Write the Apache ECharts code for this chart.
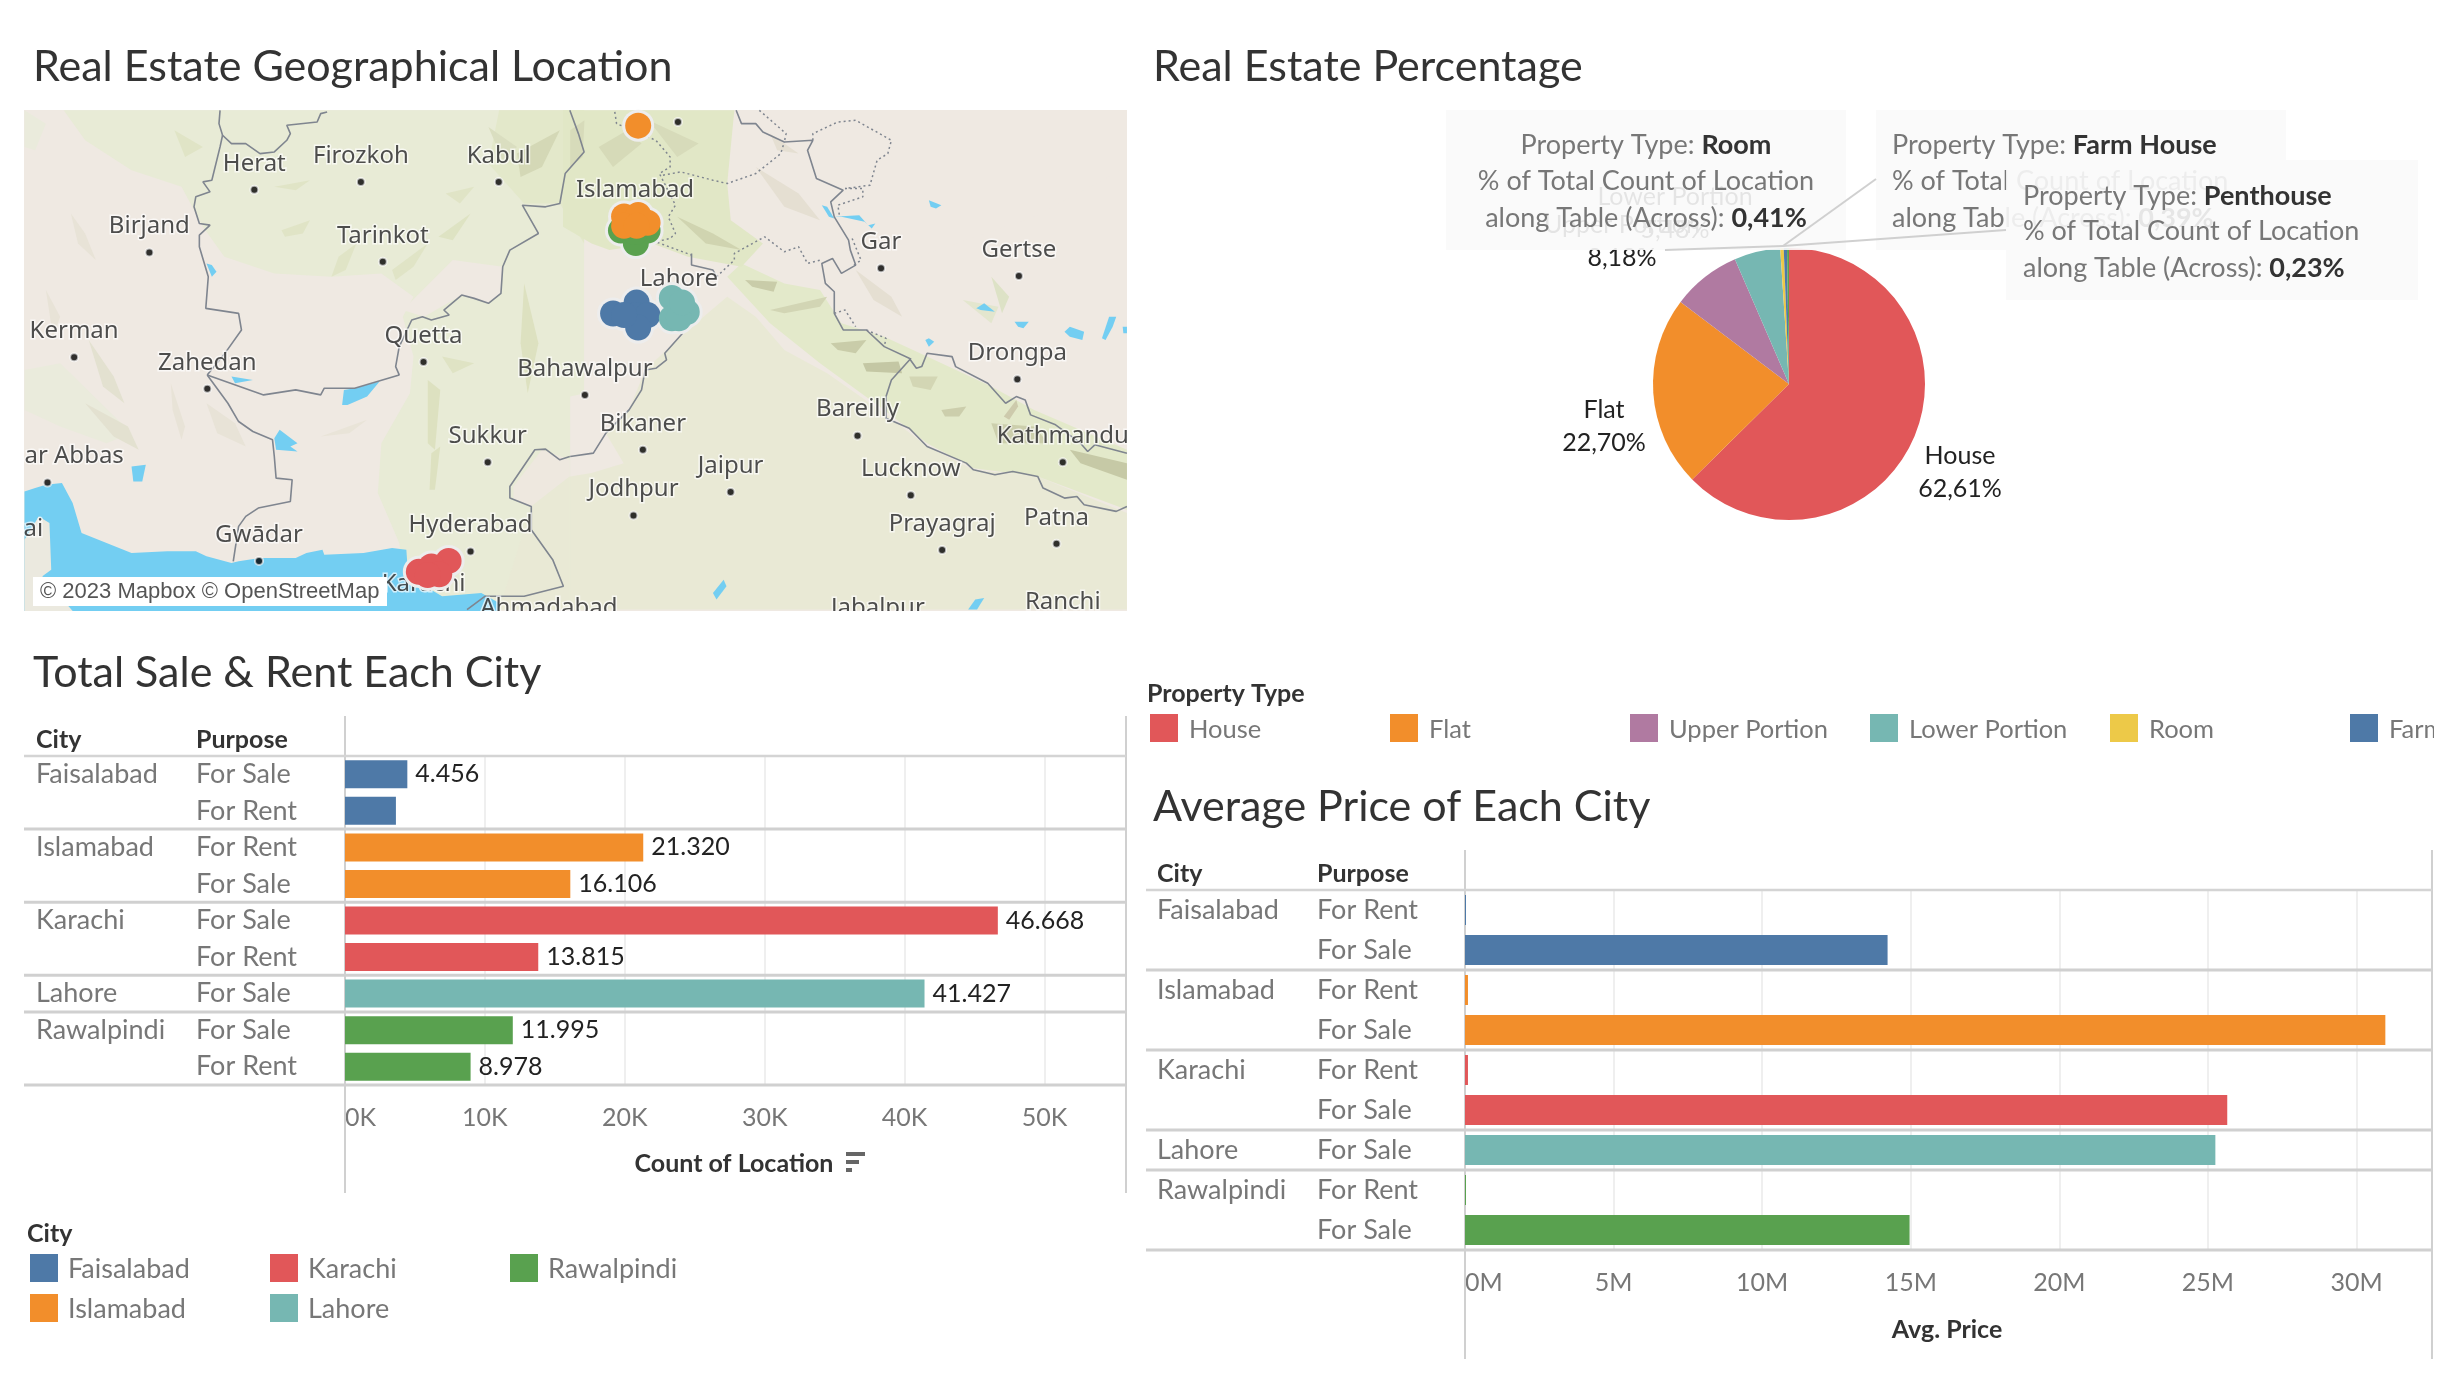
<!DOCTYPE html>
<html><head><meta charset="utf-8">
<style>html,body{margin:0;padding:0;background:#fff}#c{width:2458px;height:1386px}</style>
<script src="https://cdn.jsdelivr.net/npm/echarts@6/dist/echarts.min.js"></script>
</head><body><div id="c"></div>
<script>
const FONT='Lato', MAPFONT='Noto Sans';
const cityColors={Faisalabad:'#4e79a7',Islamabad:'#f28e2b',Karachi:'#e15759',Lahore:'#76b7b2',Rawalpindi:'#59a14f'};
const propertyTypes=['House','Flat','Upper Portion','Lower Portion','Room','Farm House','Penthouse'];
const propertyShares=[62.61,22.70,8.18,5.48,0.41,0.39,0.23];
const propertyColors=['#e15759','#f28e2b','#b07aa1','#76b7b2','#edc948','#4e79a7','#59a14f'];

const countCities=['Faisalabad','Faisalabad','Islamabad','Islamabad','Karachi','Karachi','Lahore','Rawalpindi','Rawalpindi'];
const countPurposes=['For Sale','For Rent','For Rent','For Sale','For Sale','For Rent','For Sale','For Sale','For Rent'];
const countValues=[4456,3640,21320,16106,46668,13815,41427,11995,8978];
const countLabelled=[true,false,true,true,true,true,true,true,true];

const priceCities=['Faisalabad','Faisalabad','Islamabad','Islamabad','Karachi','Karachi','Lahore','Rawalpindi','Rawalpindi'];
const pricePurposes=['For Rent','For Sale','For Rent','For Sale','For Rent','For Sale','For Sale','For Rent','For Sale'];
const priceValues=[0.03,14.22,0.1,30.97,0.1,25.65,25.25,0.03,14.96];

// map geometry in map units (display grid) and in two tile grids
const T1=p=>[15.3+p[0]*.2278,70.2+p[1]*.2126];
const T2=p=>[363.6+p[0]*.2278,70.2+p[1]*.2126];
const mapPlaces=[['Herat',162,121],['Firozkoh',230,116],['Kabul',318,116],['Birjand',95,161],['Tarinkot',244,167],['Gar',562,171],['Gertse',650,176],['Kerman',47,228],['Zahedan',132,248],['Quetta',270,231],['Bahawalpur',373,252],['Drongpa',649,242],['Bikaner',410,287],['Sukkur',311,295],['Bareilly',547,278],['Kathmandu',678,295],['Jaipur',466,314],['Lucknow',581,316],['Jodhpur',404,329],['Prayagraj',601,351],['Patna',674,347],['Hyderabad',300,352],['Gwādar',165,358],['Ranchi',678,401],['Jabalpur',560,405],['Ahmadabad',350,405]];
const mapDotsOnly=[[432.4,77.6],[30,308]];
const mapLabelsOnly=[['Islamabad',405,121],['Lahore',433,178],['ar Abbas',47,291],['ai',21,338],['Karachi',270,373]];
const mapMarks={
 Rawalpindi:[[396,147],[405.5,155],[413,147],[405,148]],
 Islamabad:[[407,80],[398,138],[407,137],[413,142],[398,144],[406,144]],
 Faisalabad:[[391,200],[406,193],[406,201],[413,201],[407,209],[398,201]],
 Lahore:[[428.5,190],[438,199],[428.5,203],[433,203],[435,193]],
 Karachi:[[286,358],[267,365],[275,361.5],[280,366.5],[272.7,367]]
};
const mapLandT1=[
 ['#e8ebd6',[[110,0],[170,90],[300,180],[440,230],[500,350],[560,440],[700,490],[860,500],[1000,490],[1090,560],[1060,620],[1090,740],[1080,850],[1000,1000],[990,1150],[1050,1300],[1075,1500],[1568,1500],[1568,0]]],
 ['#efe9e2',[[1200,450],[1340,470],[1335,550],[1300,580],[1225,555],[1120,620],[1060,600]]],
 ['#eaebdc',[[0,780],[100,760],[300,970],[230,1000],[100,950],[0,900]]],
 ['#eaebdc',[[0,0],[60,40],[30,120],[0,110]]],
 ['#eee8df',[[1370,1130],[1450,1020],[1528,1050],[1528,1100],[1420,1190],[1370,1170]]],
 ['#e9e9d5',[[1420,1190],[1528,1100],[1528,1500],[1330,1500]]],
 ['#e3e8ca',[[1330,0],[1568,0],[1568,400],[1500,280],[1400,280],[1300,160]]]
];
const mapLandT2=[
 ['#efe9e2',[[460,0],[1560,0],[1560,170],[1300,320],[1000,430],[880,500],[850,600],[880,680],[760,640],[700,540],[660,500],[540,400],[450,330],[440,220],[460,100]]],
 ['#e9e9d5',[[0,1100],[70,1000],[165,900],[210,780],[270,720],[330,660],[440,560],[520,620],[600,720],[720,790],[880,910],[1000,1010],[1130,1080],[1310,1100],[1560,1210],[1560,1500],[0,1500]]],
 ['#efe9e2',[[0,860],[130,830],[150,880],[100,970],[150,1060],[60,1090],[0,1100]]],
 ['#e3e9ca',[[440,500],[560,640],[700,760],[880,900],[1000,1000],[1130,1075],[1310,1100],[1560,1200],[1560,1020],[1300,900],[1180,830],[1000,740],[880,680],[760,640],[700,540],[600,520],[480,460]]],
 ['#e1e7c6',[[-20,0],[460,0],[440,220],[450,330],[540,400],[480,470],[330,440],[230,400],[110,420],[60,400],[-20,350]]]
];
const mapShardsT1=[
 ['#e0e4c6',[[720,360],[800,330],[780,370],[730,380]]],['#e0e4c6',[[1030,480],[1130,400],[1090,470],[1040,510]]],['#dee3c3',[[1160,380],[1250,310],[1200,390]]],
 ['#d4d8b6',[[1380,130],[1500,60],[1450,170],[1390,200]]],['#dadec0',[[1300,50],[1380,110],[1340,150]]],['#e0e4c6',[[880,440],[930,400],[900,480],[860,500]]],
 ['#e0e4c6',[[420,60],[500,110],[450,140]]],['#e0e4c6',[[700,230],[800,210],[760,240]]],['#e0e4c6',[[1180,250],[1260,230],[1220,280]]],
 ['#e8e3d7',[[130,310],[170,370],[200,450],[150,400]]],['#e8e3d7',[[60,540],[100,620],[80,680]]],['#e3e1d0',[[180,690],[250,800],[280,880],[220,830]]],
 ['#e8e3d7',[[410,820],[450,950],[440,990],[415,900]]],['#e3e1d0',[[170,880],[290,950],[320,1020],[250,980]]],['#e8e3d7',[[510,880],[590,940],[620,1010],[540,970]]],
 ['#e9e4d8',[[830,980],[960,930],[910,970]]],['#dde1c0',[[1130,810],[1165,840],[1150,1020],[1130,1000]]],['#dde1c0',[[1400,520],[1440,700],[1410,850],[1390,700]]],
 ['#dde1c0',[[1140,1030],[1165,1010],[1150,1140],[1135,1140]]],['#dfe3c4',[[1170,740],[1260,760],[1200,790]]]
];
const mapShardsT2=[
 ['#c9cca9',[[490,510],[580,515],[570,545],[510,530]]],['#d2d5b4',[[560,600],[720,560],[700,590],[600,610]]],['#c9cca9',[[730,700],[830,690],[800,730],[750,720]]],
 ['#c4c7a4',[[820,760],[920,755],[930,790],[830,785]]],['#d3d6b4',[[950,800],[1030,800],[1010,840],[960,830]]],['#ccceac',[[1040,900],[1110,890],[1090,920],[1050,920]]],
 ['#cccfac',[[1180,940],[1300,950],[1340,1000],[1200,1000]]],['#c6c9a6',[[1400,1020],[1560,1060],[1560,1110],[1430,1060]]],['#cdcaac',[[1215,920],[1250,870],[1255,890],[1230,930]]],
 ['#d0d4b0',[[300,320],[400,370],[480,420],[380,400]]],['#d6dab8',[[80,110],[160,60],[200,100],[120,170]]],['#d7dbba',[[220,30],[360,100],[300,140]]],['#d7dbba',[[0,60],[40,30],[35,140],[0,170]]],
 ['#e5dfd2',[[520,170],[640,250],[700,330],[600,290]]],['#e5dfd2',[[800,480],[900,560],[930,620],[850,570]]],['#e5dfd2',[[560,70],[640,130],[580,120]]],
 ['#dde2c6',[[1180,500],[1230,560],[1210,610]]],['#e3e6ce',[[1100,570],[1200,590],[1180,640]]]
];
const mapSeaT1=[[0,1145],[30,1135],[60,1125],[105,1120],[135,1180],[160,1270],[230,1300],[300,1330],[400,1325],[480,1325],[510,1340],[580,1360],[600,1355],[660,1345],[760,1345],[790,1330],[835,1320],[840,1335],[950,1330],[1030,1315],[1070,1320],[1075,1400],[1170,1460],[1280,1450],[1330,1480],[1330,1510],[0,1510]];
const mapCoastT1=[[0,1290],[40,1220],[70,1240],[75,1380],[50,1400],[140,1510],[0,1510]];
const mapLakesT1=[[[510,460],[525,465],[538,485],[525,500]],[[580,800],[640,810],[590,820]],[[890,885],[895,840],[925,835],[995,815],[960,860],[905,885]],[[700,985],[715,960],[765,1000],[745,1010],[765,1025],[705,1020]],[[300,1070],[340,1065],[330,1115],[305,1115]]];
const mapLakesT2=[[[705,285],[720,290],[740,325],[725,320]],[[735,320],[810,315],[835,345],[855,340],[845,355],[825,335],[760,320]],[[1005,270],[1040,285],[1025,295],[1010,290]],[[1138,595],[1160,580],[1190,605],[1150,600]],[[1245,635],[1285,635],[1270,655],[1255,650]],[[1385,665],[1400,650],[1440,665],[1435,690],[1400,680]],[[1490,685],[1510,620],[1530,620],[1520,650],[1500,690]],[[995,690],[1005,685],[1020,695],[1005,710]],[[400,1450],[430,1410],[438,1430],[410,1470]],[[1115,1500],[1135,1470],[1160,1465],[1140,1500]],[[1548,650],[1560,650],[1560,670],[1550,670]]];
const mapBordersT1=[
 [[848,5],[830,10],[820,35],[735,45],[745,70],[735,90],[700,125],[660,130],[620,100],[580,100],[555,75],[545,40],[548,0]],
 [[555,75],[548,110],[525,210],[500,215],[520,245],[480,260],[475,290],[490,340],[520,345],[490,375],[490,410],[515,500],[508,595],[600,610],[608,660],[565,725],[512,795]],
 [[512,795],[570,880],[600,935],[640,965],[695,990],[700,1040],[705,1105],[750,1110],[745,1175],[655,1195],[620,1220],[600,1250],[585,1355]],
 [[512,795],[670,855],[760,840],[830,855],[840,835],[925,835],[1050,795],[1040,770],[1050,710],[1085,630],[1115,620],[1140,630],[1190,615],[1175,600],[1225,555],[1260,565],[1300,580],[1335,550],[1340,470],[1360,420],[1440,370],[1395,285],[1460,290],[1500,280],[1515,190],[1568,125],[1552,70],[1528,0]],
 [[1528,1040],[1500,1050],[1460,1018],[1430,1020],[1360,1130],[1360,1165],[1420,1190],[1420,1260],[1480,1350],[1510,1430],[1400,1460],[1290,1460],[1240,1500]]
];
const mapBordersT2=[
 [[340,430],[340,465],[400,480],[410,500]],
 [[315,670],[265,730],[270,750],[240,775],[210,780],[200,840],[165,900],[100,970],[65,1030],[0,1040]],
 [[465,0],[480,40],[520,40],[540,65],[600,95],[680,90],[665,120],[690,205],[765,240],[730,275],[740,320],[780,390],[785,420],[800,465],[760,490],[735,445],[705,460],[715,520],[740,545],[740,610],[765,660],[830,660],[880,710],[950,745],[970,775],[985,770],[1000,730],[1070,740],[1080,770],[1170,820],[1220,880],[1250,860],[1275,870],[1290,915],[1360,945],[1430,1000],[1450,1025],[1470,1005],[1560,1030]],
 [[955,745],[900,810],[885,860],[885,925],[950,955],[1000,1010],[1110,1060],[1130,1080],[1190,1095],[1240,1085],[1310,1100],[1325,1135],[1385,1165],[1420,1160],[1440,1185],[1530,1205],[1560,1190]]
];
const mapDottedT2=[
 [[125,5],[130,40],[240,90],[280,140],[280,170],[250,190],[295,285],[275,320],[295,370],[280,385],[240,395],[340,435]],
 [[260,195],[310,185],[400,210],[440,220],[520,190],[590,130],[600,95]],
 [[530,0],[605,70],[600,95]],
 [[680,90],[680,70],[750,35],[800,30],[900,90],[890,130],[860,150],[840,225],[770,235]],
 [[770,235],[820,235],[820,260],[750,285],[755,320]],
 [[410,500],[460,450],[460,430],[545,380],[600,425],[640,410],[665,460],[700,450]],
 [[790,385],[815,450],[795,465]],[[740,610],[770,600],[800,650]],[[830,660],[885,685],[880,710]]
];
const mapPolys=[
 ...mapLandT1.map(([c,p])=>({c,p:p.map(T1)})),
 ...mapLandT2.map(([c,p])=>({c,p:p.map(T2)})),
 ...mapShardsT1.map(([c,p])=>({c,p:p.map(T1)})),
 ...mapShardsT2.map(([c,p])=>({c,p:p.map(T2)})),
 {c:'#73cef2',p:mapSeaT1.map(T1)},{c:'#ebe9df',p:mapCoastT1.map(T1)},
 ...mapLakesT1.map(p=>({c:'#73cef2',p:p.map(T1)})),
 ...mapLakesT2.map(p=>({c:'#73cef2',p:p.map(T2)}))
];
const mapLines=[...mapBordersT1.map(b=>b.map(T1)),...mapBordersT2.map(b=>b.map(T2))];
const mapDashes=mapDottedT2.map(b=>b.map(T2));

const pieLabelSpots={House:[1960,472],Flat:[1604,426],'Upper Portion':[1622,241],'Lower Portion':[1675,213]};
const tipBoxes=[
 {x:1446,y:110,w:400,h:140,align:'center',tx:1646,ty:[145,181,218],type:'Room',val:'0,41%'},
 {x:1876,y:110,w:410,h:140,align:'left',tx:1892,ty:[145,181,218],type:'Farm House',val:'0,39%'},
 {x:2006,y:160,w:412,h:140,align:'left',tx:2023,ty:[196,231,268],type:'Penthouse',val:'0,23%'}
];

const SMALL=25, NAME=27, TITLE=43;
const txt=(x,y,text,o={})=>({type:'text',x,y,z:o.z||20,style:{text,fontFamily:FONT,fontSize:o.size||SMALL,fontWeight:o.weight||400,fill:o.fill||'#777',textAlign:o.align||'left',textVerticalAlign:'middle'}});
const rect=(x,y,w,h,fill,z)=>({type:'rect',z:z||20,shape:{x,y,width:w,height:h},style:{fill}});
const seg=(x1,y1,x2,y2,stroke,w,z)=>({type:'line',z:z||1,shape:{x1,y1,x2,y2},style:{stroke,lineWidth:w}});

const LEFT={gl:345,gt:756,gw:781,gh:329,top:716,bot:1193,tl:24,cityX:36,purpX:196,headY:740,cities:countCities};
const RIGHT={gl:1465,gt:890,gw:967,gh:360,top:850,bot:1359,tl:1146,cityX:1157,purpX:1317,headY:874,cities:priceCities};
function tableDecor(t){
 const g=[],rh=t.gh/t.cities.length,R=t.gl+t.gw;
 g.push(seg(t.gl,t.top,t.gl,t.bot,'#d0d0d0',2),seg(R,t.top,R,t.bot,'#d0d0d0',2));
 g.push(seg(t.tl,t.gt,R,t.gt,'#d4d4d4',2.5));
 t.cities.forEach((c,i)=>{ if(i===t.cities.length-1||t.cities[i+1]!==c){const y=t.gt+rh*(i+1);g.push(seg(t.tl,y,R,y,'#d0d0d0',3));}});
 g.push(txt(t.cityX,t.headY,'City',{fill:'#333',weight:700}),txt(t.purpX,t.headY,'Purpose',{fill:'#333',weight:700}));
 return g;
}
const graphics=[
 txt(33,67,'Real Estate Geographical Location',{size:TITLE,fill:'#333'}),
 txt(1153,67,'Real Estate Percentage',{size:TITLE,fill:'#333'}),
 txt(33,673,'Total Sale & Rent Each City',{size:TITLE,fill:'#333'}),
 txt(1153,807,'Average Price of Each City',{size:TITLE,fill:'#333'}),
 rect(0,611,1140,36,'#fff',15),rect(0,100,24,530,'#fff',15),rect(1127,100,13,530,'#fff',15),
 rect(33,577,354,29,'#fff',16),
 {type:'text',z:17,x:40,y:592,style:{text:'© 2023 Mapbox © OpenStreetMap',fontFamily:'Liberation Sans',fontSize:22,fill:'#555',textVerticalAlign:'middle'}},
 ...tableDecor(LEFT),...tableDecor(RIGHT),
 txt(734,1164,'Count of Location',{fill:'#333',weight:700,align:'center'}),
 rect(846,1152,19,4,'#666'),rect(846,1160,13,4,'#666'),rect(846,1168,6,4,'#666'),
 txt(1947,1330,'Avg. Price',{fill:'#333',weight:700,align:'center'}),
 txt(27,1234,'City',{fill:'#333',weight:700}),
 txt(1147,694,'Property Type',{fill:'#333',weight:700})
];
[['Faisalabad',30,1254],['Islamabad',30,1294],['Karachi',270,1254],['Lahore',270,1294],['Rawalpindi',510,1254]].forEach(([n,x,y])=>{
 graphics.push(rect(x,y,28,28,cityColors[n]),txt(x+38,y+15,n,{size:NAME}));
});
propertyTypes.slice(0,6).forEach((n,i)=>{
 const x=1150+240*i;
 graphics.push(rect(x,714,28,28,propertyColors[i]),txt(x+39,730,n,{size:25.5}));
});
graphics.push(rect(2434,700,24,50,'#fff',25));
const leaderPt=[1783,246];
graphics.push(seg(1665,250,leaderPt[0],leaderPt[1],'#d0d0d0',2,40),seg(1876,179,leaderPt[0],leaderPt[1],'#d0d0d0',2,40),seg(2006,230,leaderPt[0],leaderPt[1],'#d0d0d0',2,40));
tipBoxes.forEach((b,i)=>{
 const z=30+i*3;
 graphics.push({type:'rect',z,shape:{x:b.x,y:b.y,width:b.w,height:b.h},style:{fill:'rgba(249,249,249,0.9)'}});
 const mk=(y,text)=>({type:'text',z:z+1,x:b.tx,y,style:{text,fontFamily:FONT,fontSize:NAME,fill:'#777',textAlign:b.align,textVerticalAlign:'middle',rich:{b:{fontFamily:FONT,fontSize:NAME,fontWeight:700,fill:'#333'}}}});
 graphics.push(mk(b.ty[0],'Property Type: {b|'+b.type+'}'),mk(b.ty[1],'% of Total Count of Location'),mk(b.ty[2],'along Table (Across): {b|'+b.val+'}'));
});

const axisFont={fontFamily:FONT,fontSize:SMALL,color:'#777'};
const nameFont={fontFamily:FONT,fontSize:NAME,color:'#777'};
const hiddenLine={axisLine:{show:false},axisTick:{show:false}};
const opt={
 animation:false,backgroundColor:'#fff',
 grid:[
  {left:24,top:110,width:1103,height:501,show:false,outerBoundsMode:'none'},
  {left:LEFT.gl,top:LEFT.gt,width:LEFT.gw,height:LEFT.gh,outerBoundsMode:'none'},
  {left:RIGHT.gl,top:RIGHT.gt,width:RIGHT.gw,height:RIGHT.gh,outerBoundsMode:'none'}
 ],
 xAxis:[
  {gridIndex:0,type:'value',min:15,max:719,show:false},
  {gridIndex:1,type:'value',min:0,max:55830,interval:10000,...hiddenLine,splitLine:{lineStyle:{color:'#efefef',width:2}},
   axisLabel:{...axisFont,margin:20,alignMinLabel:'left',showMaxLabel:false,formatter:v=>(v/1000)+'K'}},
  {gridIndex:2,type:'value',min:0,max:32.54,interval:5,...hiddenLine,splitLine:{lineStyle:{color:'#efefef',width:2}},
   axisLabel:{...axisFont,margin:20,alignMinLabel:'left',showMaxLabel:false,formatter:v=>v+'M'}}
 ],
 yAxis:[
  {gridIndex:0,type:'value',min:70,max:390,inverse:true,show:false},
  {gridIndex:1,type:'category',position:'left',inverse:true,data:countPurposes,...hiddenLine,
   axisLabel:{...nameFont,align:'left',interval:0,margin:LEFT.gl-LEFT.purpX,padding:[3,0,0,0]}},
  {gridIndex:1,type:'category',position:'left',inverse:true,data:countCities.map((c,i)=>i&&countCities[i-1]===c?' ':c),...hiddenLine,
   axisLabel:{...nameFont,align:'left',interval:0,margin:LEFT.gl-LEFT.cityX,padding:[0,0,6,0]}},
  {gridIndex:2,type:'category',position:'left',inverse:true,data:pricePurposes,...hiddenLine,
   axisLabel:{...nameFont,align:'left',interval:0,margin:RIGHT.gl-RIGHT.purpX,padding:[3,0,0,0]}},
  {gridIndex:2,type:'category',position:'left',inverse:true,data:priceCities.map((c,i)=>i&&priceCities[i-1]===c?' ':c),...hiddenLine,
   axisLabel:{...nameFont,align:'left',interval:0,margin:RIGHT.gl-RIGHT.cityX,padding:[0,0,6,0]}}
 ],
 graphic:{elements:graphics},
 series:[
  {type:'custom',coordinateSystem:'cartesian2d',xAxisIndex:0,yAxisIndex:0,z:1,silent:true,clip:false,
   data:[[15,70]],renderItem:(p,api)=>{
    const a=api.coord([15,70]),b=api.coord([719,390]);
    return {type:'group',children:[
     {type:'rect',shape:{x:a[0],y:a[1],width:b[0]-a[0],height:b[1]-a[1]},style:{fill:'#efe9e2'}},
     ...mapPolys.map(l=>({type:'polygon',shape:{points:l.p.map(q=>api.coord(q))},style:{fill:l.c}}))
    ]};
   }},
  ...mapLines.map(b=>({type:'line',xAxisIndex:0,yAxisIndex:0,data:b,symbol:'none',silent:true,z:2,clip:false,lineStyle:{color:'#7f858f',width:1.6}})),
  ...mapDashes.map(b=>({type:'line',xAxisIndex:0,yAxisIndex:0,data:b,symbol:'none',silent:true,z:2,clip:false,lineStyle:{color:'#7f858f',width:1.5,type:[2,3]}})),
  {type:'scatter',xAxisIndex:0,yAxisIndex:0,clip:false,z:3,silent:true,symbolSize:8,itemStyle:{color:'#000',borderColor:'rgba(255,255,255,0.8)',borderWidth:2},
   data:mapPlaces.map(p=>({name:p[0],value:[p[1],p[2]]})).concat(mapDotsOnly.map(p=>({name:'',value:p}))),
   label:{show:true,position:'top',distance:9,formatter:'{b}',fontFamily:MAPFONT,fontSize:24,color:'#222',textBorderColor:'rgba(255,255,255,0.85)',textBorderWidth:3},labelLayout:{hideOverlap:false}},
  {type:'scatter',xAxisIndex:0,yAxisIndex:0,clip:false,z:3,silent:true,symbolSize:1,itemStyle:{color:'rgba(0,0,0,0)'},
   data:mapLabelsOnly.map(p=>({name:p[0],value:[p[1],p[2]]})),
   label:{show:true,position:'inside',formatter:'{b}',fontFamily:MAPFONT,fontSize:24,color:'#222',textBorderColor:'rgba(255,255,255,0.85)',textBorderWidth:3}},
  {type:'scatter',name:'halo',xAxisIndex:0,yAxisIndex:0,clip:false,z:5,silent:true,symbolSize:32,itemStyle:{color:'#ededed',opacity:1},
   data:Object.values(mapMarks).flat()},
  ...Object.keys(mapMarks).map(c=>({type:'scatter',name:c,xAxisIndex:0,yAxisIndex:0,clip:false,z:6,silent:true,symbolSize:26,
   itemStyle:{color:cityColors[c],opacity:1},data:mapMarks[c]})),
  {type:'pie',center:[1789,384],radius:[0,136],startAngle:90,clockwise:true,silent:true,z:4,
   data:propertyTypes.map((n,i)=>({name:n,value:propertyShares[i],itemStyle:{color:propertyColors[i]},label:{show:i<4}})),
   label:{position:'outside',formatter:p=>p.name+'\n'+p.value.toFixed(2).replace('.',',')+'%',fontFamily:FONT,fontSize:SMALL,lineHeight:33,color:'#222',align:'center'},
   labelLine:{show:false},
   labelLayout:p=>{const s=pieLabelSpots[propertyTypes[p.dataIndex]];return s?{x:s[0],y:s[1],align:'center',verticalAlign:'middle',hideOverlap:false}:{};}},
  {type:'bar',xAxisIndex:1,yAxisIndex:1,barWidth:28,z:3,
   data:countValues.map((v,i)=>({value:v,itemStyle:{color:cityColors[countCities[i]]},label:{show:countLabelled[i]}})),
   label:{position:'right',distance:8,formatter:p=>String(p.value).replace(/\B(?=(\d{3})+$)/g,'.'),fontFamily:FONT,fontSize:SMALL,color:'#222'}},
  {type:'bar',xAxisIndex:2,yAxisIndex:3,barWidth:30,barMinHeight:1,z:3,
   data:priceValues.map((v,i)=>({value:v,itemStyle:{color:cityColors[priceCities[i]]}}))}
 ]
};
const chart=echarts.init(document.getElementById('c'),null,{renderer:'canvas',width:2458,height:1386});
chart.setOption(opt);
</script></body></html>
